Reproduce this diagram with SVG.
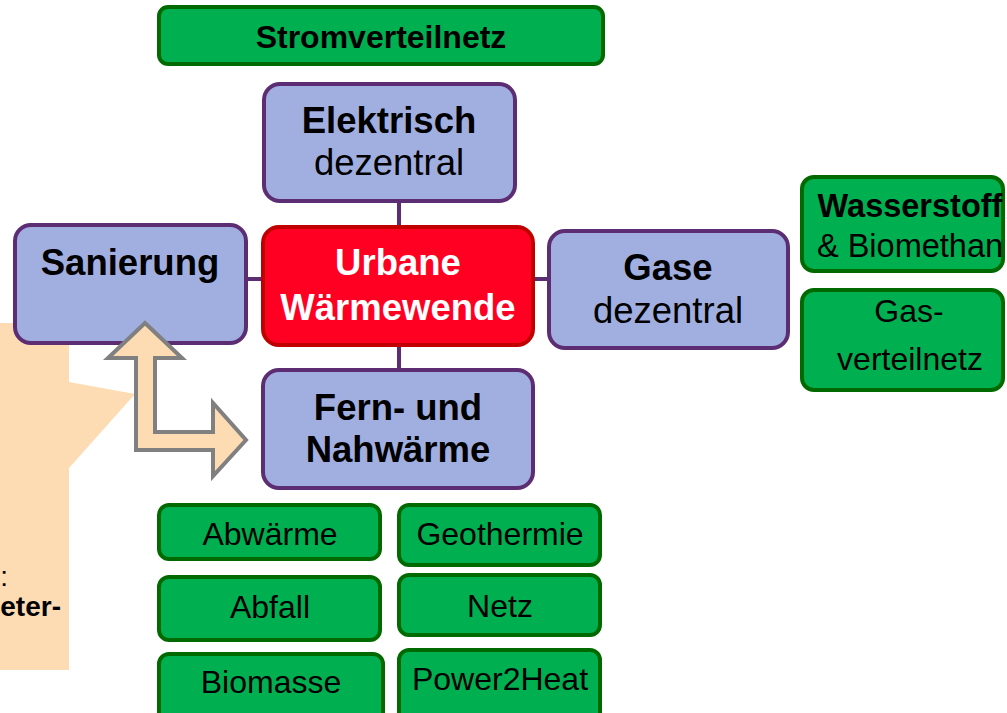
<svg xmlns="http://www.w3.org/2000/svg" width="1007" height="713" viewBox="0 0 1007 713">
<style>
.g{fill:#00B050;stroke:#006A00;stroke-width:4}
.p{fill:#A1AFE0;stroke:#5C2D73;stroke-width:4}
.r{fill:#FF0022;stroke:#C00000;stroke-width:4}
text{font-family:"Liberation Sans",Arial,sans-serif;text-anchor:middle;fill:#000}
.b{font-weight:bold}
.t32{font-size:32px}
.t36{font-size:36.5px}
.w{fill:#fff}
.conn{stroke:#5C2D73;stroke-width:4;fill:none}
</style>
<rect width="1007" height="713" fill="#fff"/>
<g id="connectors">
<line class="conn" x1="399" y1="203" x2="399" y2="226"/>
<line class="conn" x1="399" y1="346" x2="399" y2="369"/>
<line class="conn" x1="247" y1="279" x2="262" y2="279"/>
<line class="conn" x1="534" y1="279" x2="548" y2="279"/>
</g>
<g id="callout">
<path d="M0,323 H69 V382 L135,394 L69,468 V670 H0 Z" fill="#FDDBB3"/>
<text x="8" y="586" style="text-anchor:end;font-size:28px">:</text>
<text class="b" x="61" y="616" style="text-anchor:end;font-size:28px">eter-</text>
</g>
<g id="stromverteilnetz"><rect class="g" x="159" y="7" width="444" height="57" rx="9"/><text class="b t32" x="381" y="48">Stromverteilnetz</text></g>
<g id="elektrisch"><rect class="p" x="264" y="84" width="251" height="117" rx="16"/><text class="b t36" x="389" y="133">Elektrisch</text><text class="t36" x="389" y="175">dezentral</text></g>
<g id="sanierung"><rect class="p" x="15" y="225" width="231" height="118" rx="16"/><text class="b t36" x="130" y="275">Sanierung</text></g>
<g id="urbane"><rect class="r" x="263" y="227" width="270" height="118" rx="16"/><text class="b t36 w" x="398" y="275">Urbane</text><text class="b t36 w" x="398" y="320">Wärmewende</text></g>
<g id="gase"><rect class="p" x="549" y="231" width="239" height="117" rx="16"/><text class="b t36" x="668" y="280">Gase</text><text class="t36" x="668" y="323">dezentral</text></g>
<g id="fern"><rect class="p" x="263" y="370" width="270" height="118" rx="16"/><text class="b t36" x="398" y="420">Fern- und</text><text class="b t36" x="398" y="462">Nahwärme</text></g>
<g id="wasserstoff"><rect class="g" x="802" y="177" width="201" height="94" rx="12"/><text class="b t32" x="910" y="217" style="font-size:32.5px">Wasserstoff</text><text class="t32" x="910" y="257" style="font-size:32.5px">&amp; Biomethan</text></g>
<g id="gasverteilnetz"><rect class="g" x="802" y="290" width="201" height="100" rx="12"/><text class="t32" x="909" y="322">Gas-</text><text class="t32" x="910" y="370">verteilnetz</text></g>
<g id="abwaerme"><rect class="g" x="159" y="505" width="221" height="54" rx="10"/><text class="t32" x="270" y="545">Abwärme</text></g>
<g id="geothermie"><rect class="g" x="399" y="505" width="201" height="60" rx="10"/><text class="t32" x="500" y="545">Geothermie</text></g>
<g id="abfall"><rect class="g" x="159" y="577" width="221" height="63" rx="10"/><text class="t32" x="270" y="618">Abfall</text></g>
<g id="netz"><rect class="g" x="399" y="575" width="201" height="60" rx="10"/><text class="t32" x="500" y="617">Netz</text></g>
<g id="biomasse"><rect class="g" x="159" y="654" width="224" height="70" rx="10"/><text class="t32" x="271" y="693">Biomasse</text></g>
<g id="power2heat"><rect class="g" x="399" y="650" width="201" height="74" rx="10"/><text class="t32" x="500" y="690">Power2Heat</text></g>
<g id="double-arrow"><path d="M145,323 L182,358 H155 V432 H213 V403 L246,440 L213,476 V450 H136 V358 H108 Z" fill="#FDDBB3" stroke="#808080" stroke-width="4" stroke-linejoin="miter"/></g>
</svg>
